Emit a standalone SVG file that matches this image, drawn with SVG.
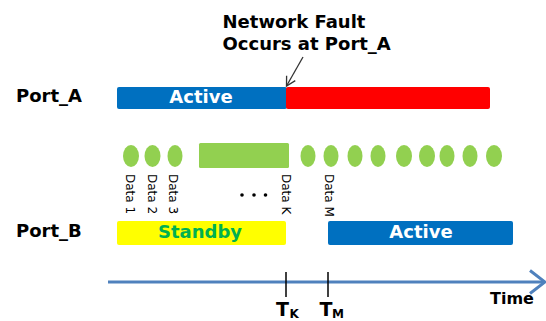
<svg xmlns="http://www.w3.org/2000/svg" width="546" height="321" viewBox="0 0 546 321">
<style>
.lbl{font-family:"DejaVu Sans","Liberation Sans",sans-serif;font-weight:bold;font-size:18px;fill:#000}
.bar{font-family:"DejaVu Sans","Liberation Sans",sans-serif;font-weight:bold;font-size:18px;text-anchor:middle}
.data{font-family:"DejaVu Sans","Liberation Sans",sans-serif;font-size:12px;fill:#000}
.pkt{fill:#92D050}
</style>
<defs>
<marker id="open" markerWidth="12" markerHeight="12" refX="10" refY="6" orient="auto" markerUnits="userSpaceOnUse">
<path d="M1,1 L10,6 L1,11" fill="none" stroke="#333" stroke-width="1.3"/>
</marker>
</defs>
<rect width="546" height="321" fill="#fff"/>

<g id="port_a">
<text class="lbl" x="16" y="102">Port_A</text>
<rect x="117" y="87" width="170" height="22" rx="2" fill="#0070C0"/>
<rect x="286" y="87" width="204" height="22" rx="2" fill="#FF0000"/>
<text class="bar" x="201" y="102.5" fill="#fff">Active</text>
</g>

<g id="fault_note">
<text class="lbl" x="222.5" y="28.3">Network Fault</text>
<text class="lbl" x="222.5" y="50">Occurs at Port_A</text>
</g>

<g id="packets">
<ellipse class="pkt" cx="131" cy="156" rx="8" ry="11"/>
<ellipse class="pkt" cx="152.5" cy="156" rx="8" ry="11"/>
<ellipse class="pkt" cx="175" cy="156" rx="7.5" ry="11"/>
<rect class="pkt" x="199" y="143" width="90" height="25" rx="1.5"/>
<ellipse class="pkt" cx="308" cy="156" rx="7.5" ry="11"/>
<ellipse class="pkt" cx="331" cy="156" rx="7.5" ry="11"/>
<ellipse class="pkt" cx="355" cy="156" rx="7.5" ry="11"/>
<ellipse class="pkt" cx="378" cy="156" rx="7.5" ry="11"/>
<ellipse class="pkt" cx="404" cy="156" rx="8" ry="11"/>
<ellipse class="pkt" cx="427" cy="156" rx="8" ry="11"/>
<ellipse class="pkt" cx="447" cy="156" rx="7.5" ry="11"/>
<ellipse class="pkt" cx="470" cy="156" rx="7.5" ry="11"/>
<ellipse class="pkt" cx="494" cy="156" rx="8" ry="11"/>
</g>

<g id="data_labels">
<text class="data" transform="translate(126,174) rotate(90)">Data 1</text>
<text class="data" transform="translate(148,174) rotate(90)">Data 2</text>
<text class="data" transform="translate(169,174) rotate(90)">Data 3</text>
<text class="data" transform="translate(282,174) rotate(90)">Data K</text>
<text class="data" transform="translate(325,174) rotate(90)">Data M</text>
<circle cx="242" cy="195" r="1.8" fill="#000"/>
<circle cx="254" cy="195" r="1.8" fill="#000"/>
<circle cx="265.5" cy="195" r="1.8" fill="#000"/>
</g>

<g id="port_b">
<text class="lbl" x="16" y="237">Port_B</text>
<rect x="117" y="221" width="169" height="24" rx="2" fill="#FFFF00"/>
<text class="bar" x="200" y="238.3" fill="#00B050">Standby</text>
<rect x="328" y="221" width="185" height="24" rx="2" fill="#0070C0"/>
<text class="bar" x="421" y="238.3" fill="#fff">Active</text>
</g>

<g id="connectors">
<line x1="303" y1="57" x2="286.5" y2="86" stroke="#333" stroke-width="1.3" marker-end="url(#open)"/>
<line x1="108" y1="282" x2="544" y2="282" stroke="#4F81BD" stroke-width="3"/>
<polyline points="530,270.5 545,282 530,293.5" fill="none" stroke="#4F81BD" stroke-width="3"/>
<line x1="286" y1="272" x2="286" y2="297" stroke="#000" stroke-width="1.5"/>
<line x1="328" y1="272" x2="328" y2="297" stroke="#000" stroke-width="1.5"/>
</g>

<g id="time_axis_labels">
<text class="lbl" x="490" y="304" style="font-size:16px">Time</text>
<text class="lbl" x="276" y="316" style="font-size:19px">T</text>
<text class="lbl" x="289.5" y="318" style="font-size:12px">K</text>
<text class="lbl" x="319.5" y="316" style="font-size:19px">T</text>
<text class="lbl" x="332" y="318" style="font-size:12px">M</text>
</g>
</svg>
